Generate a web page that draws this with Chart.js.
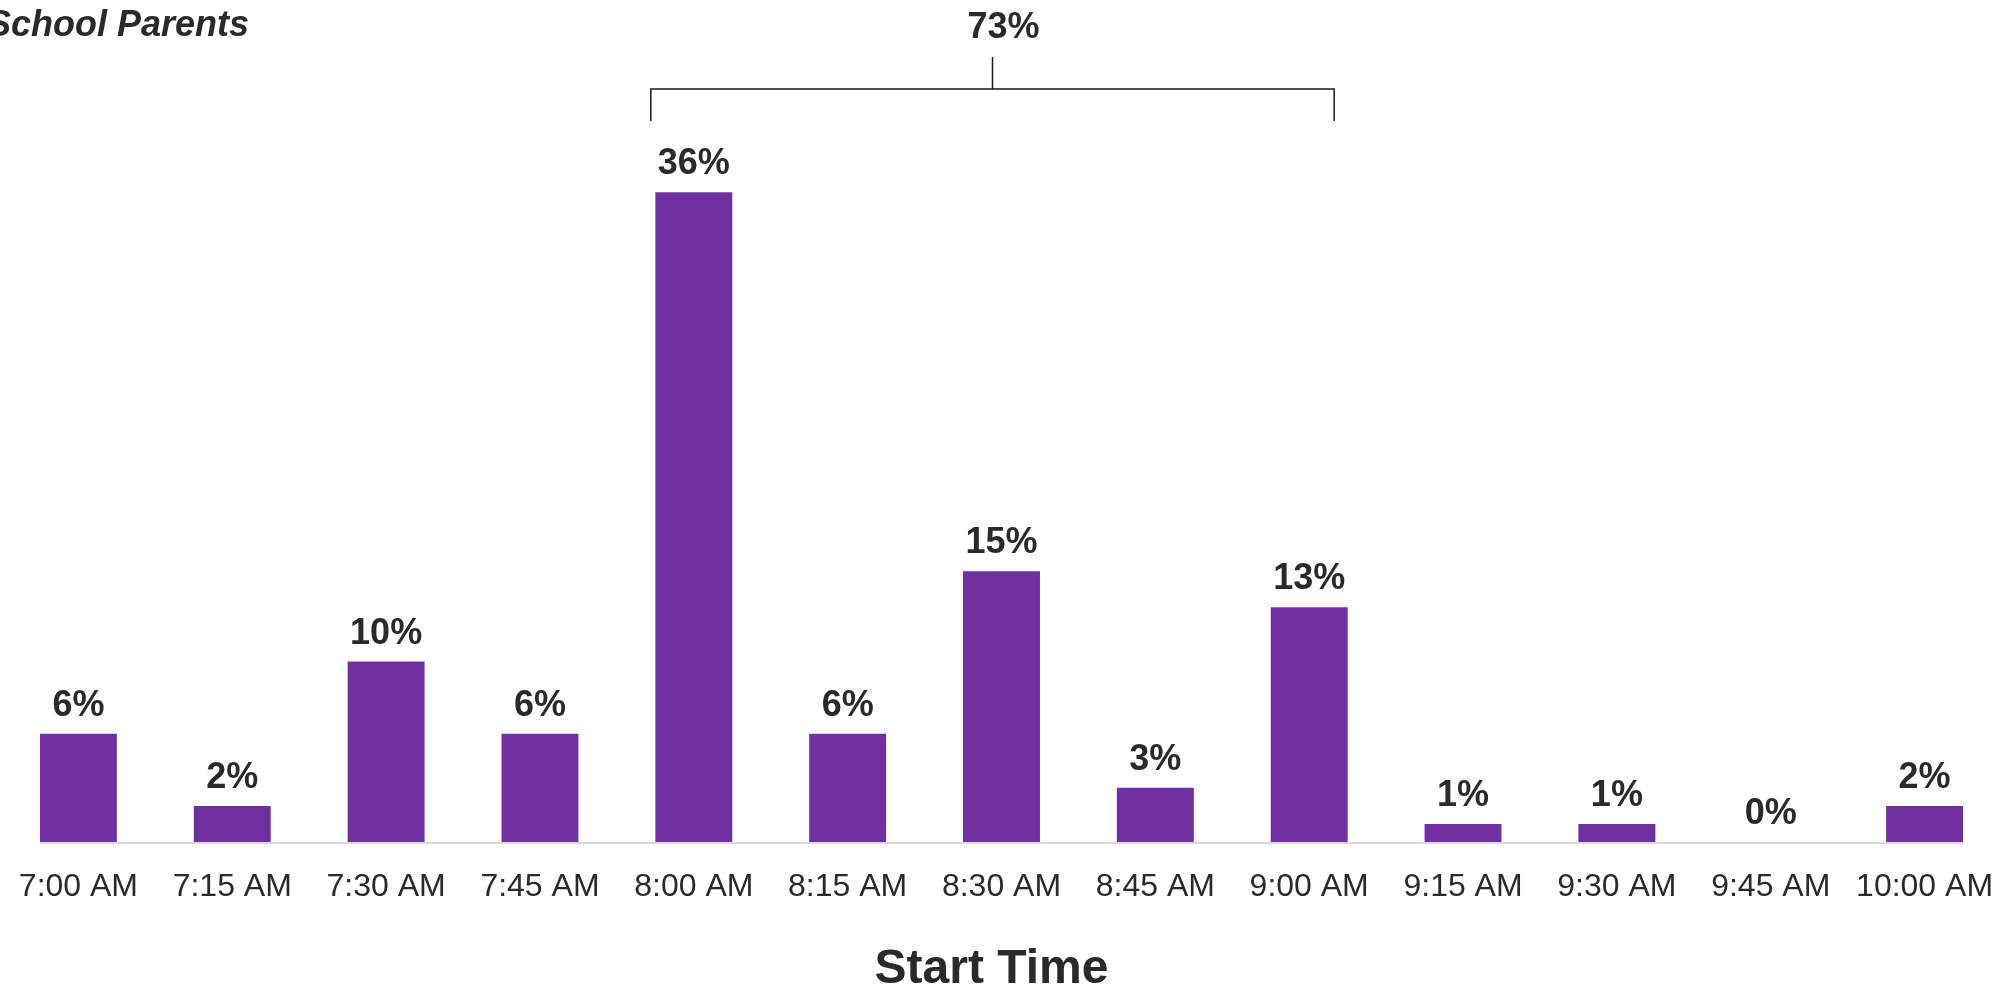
<!DOCTYPE html>
<html>
<head>
<meta charset="utf-8">
<title>Start Time</title>
<script src="https://cdn.jsdelivr.net/npm/chart.js@4"></script>
<style>
    html, body { margin: 0; padding: 0; background: #ffffff; }
    canvas { display: block; }
</style>
</head>
<body>
<canvas id="startChart" width="2010" height="988"></canvas>
<script>
// Data
const categories = ['7:00 AM', '7:15 AM', '7:30 AM', '7:45 AM', '8:00 AM', '8:15 AM', '8:30 AM',
                    '8:45 AM', '9:00 AM', '9:15 AM', '9:30 AM', '9:45 AM', '10:00 AM'];
const shares = [6, 2, 10, 6, 36, 6, 15, 3, 13, 1, 1, 0, 2];
const bracketRange = [4, 8];   // 8:00 AM .. 9:00 AM
const chartTitle = 'School Parents';
const axisTitle = 'Start Time';

const textColor = '#2a2a2a';
const fontFamily = '"Liberation Sans", Arial, sans-serif';

/**
 * Extra drawing: axis line, value labels, bracket, titles
 */
const annotations = {
    id: 'annotations',
    afterDatasetsDraw(chart) {
        const ctx = chart.ctx;
        const area = chart.chartArea;
        const bars = chart.getDatasetMeta(0).data;
        const base = chart.scales.y.getPixelForValue(0);

        ctx.save();

        // Baseline from first to last bar
        const first = bars[0];
        const last = bars[bars.length - 1];
        ctx.strokeStyle = '#d9d9d9';
        ctx.lineWidth = 2;
        ctx.beginPath();
        ctx.moveTo(first.x - first.width / 2, base + 1);
        ctx.lineTo(last.x + last.width / 2, base + 1);
        ctx.stroke();

        // Value labels above bars
        ctx.fillStyle = textColor;
        ctx.font = 'bold 36px ' + fontFamily;
        ctx.textAlign = 'center';
        ctx.textBaseline = 'alphabetic';
        bars.forEach((bar, i) => {
            ctx.fillText(shares[i] + '%', bar.x, bar.y - 18);
        });

        // Bracket over 8:00 - 9:00 with the summed share
        const left = bars[bracketRange[0]].x - 43;
        const right = bars[bracketRange[1]].x + 25;
        const mid = (left + right) / 2;
        const yLine = area.top - 31;
        ctx.strokeStyle = '#1a1a1a';
        ctx.lineWidth = 1.5;
        ctx.beginPath();
        ctx.moveTo(left, area.top + 1);
        ctx.lineTo(left, yLine);
        ctx.lineTo(right, yLine);
        ctx.lineTo(right, area.top + 1);
        ctx.moveTo(mid, yLine);
        ctx.lineTo(mid, area.top - 63);
        ctx.stroke();

        let total = 0;
        for (let i = bracketRange[0]; i <= bracketRange[1]; i++) total += shares[i];
        ctx.fillText(total + '%', mid + 11, area.top - 82);

        // Chart title (cut at the left edge)
        ctx.font = 'italic bold 36px ' + fontFamily;
        ctx.textAlign = 'right';
        ctx.fillText(chartTitle, 249, 36);

        // Axis title
        ctx.font = 'bold 48px ' + fontFamily;
        ctx.textAlign = 'center';
        ctx.fillText(axisTitle, (area.left + area.right) / 2 - 10, 983);

        ctx.restore();
    }
};

document.addEventListener('DOMContentLoaded', function() {
    const ctx = document.getElementById('startChart').getContext('2d');

    new Chart(ctx, {
        type: 'bar',
        data: {
            labels: categories,
            datasets: [{
                data: shares,
                backgroundColor: '#7030a0',
                borderWidth: 0,
                barPercentage: 0.5,
                categoryPercentage: 1
            }]
        },
        options: {
            responsive: false,
            animation: false,
            layout: {
                padding: { left: 1.5, right: 8.5, top: 120, bottom: 0 }
            },
            plugins: {
                legend: { display: false },
                tooltip: { enabled: false }
            },
            scales: {
                x: {
                    grid: { display: false },
                    border: { display: false },
                    ticks: {
                        color: textColor,
                        // no padding here: it would shrink the plot area sideways
                        padding: 0,
                        maxRotation: 0,
                        autoSkip: false,
                        font: { family: fontFamily, size: 32, lineHeight: 2.3 }
                    },
                    afterFit(scale) {
                        scale.height = 146;
                    }
                },
                y: {
                    display: false,
                    min: 0,
                    max: 40
                }
            }
        },
        plugins: [annotations]
    });
});
</script>
</body>
</html>
